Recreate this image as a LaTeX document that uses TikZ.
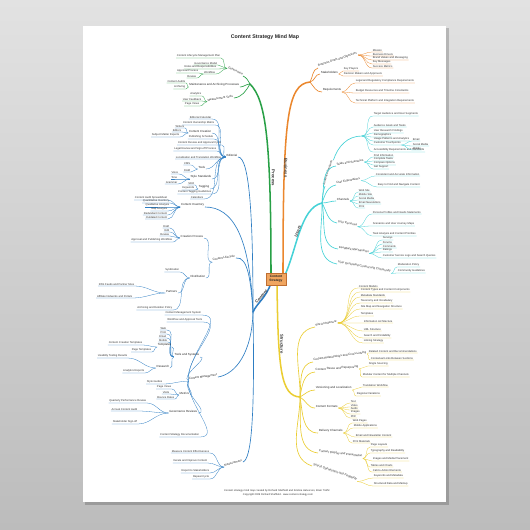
\documentclass[tikz,border=0pt]{standalone}
\usepackage{fontspec}
\setmainfont{Liberation Sans}
\definecolor{gC}{RGB}{40,160,70}
\definecolor{oC}{RGB}{235,135,45}
\definecolor{cC}{RGB}{70,210,215}
\definecolor{yC}{RGB}{235,205,50}
\definecolor{bC}{RGB}{45,125,195}
\definecolor{bgT}{RGB}{226,226,226}
\definecolor{bgB}{RGB}{188,188,188}
\definecolor{boxF}{RGB}{240,165,95}
\definecolor{boxD}{RGB}{190,110,50}
\newcommand\leavesR[3]{\foreach \nm/\xx/\yy/\tx in {#3}{\node[lf,anchor=south west] (\nm) at (\xx,\yy) {\tx};\draw[#1,lfw] (#2) to[out=0,in=180] (\nm.south west) -- (\nm.south east);}}
\newcommand\leavesL[3]{\foreach \nm/\xx/\yy/\tx in {#3}{\node[lf,anchor=south east] (\nm) at (\xx,\yy) {\tx};\draw[#1,lfw] (#2) to[out=180,in=0] (\nm.south east) -- (\nm.south west);}}
\begin{document}
\begin{tikzpicture}[x=0.3mm,y=-0.3mm,
  lf/.style={font=\fontsize{2.3}{2.6}\selectfont, inner xsep=0.5pt, inner ysep=0.35pt, text=black!80},
  sb/.style={font=\fontsize{2.5}{2.8}\selectfont, inner xsep=0.5pt, inner ysep=0.35pt, text=black!85},
  tl/.style={font=\fontsize{3.6}{4}\selectfont\bfseries, inner sep=0.5pt, text=black!80},
  lfw/.style={line width=0.25pt},
  sbw/.style={line width=0.55pt},
  trunk/.style={line width=1.3pt, line cap=round},
  cnode/.style={draw=boxD, fill=boxF, line width=0.4pt, align=center, font=\fontsize{2.8}{3.2}\selectfont\bfseries, text=black!85, minimum width=6mm, minimum height=3.6mm, inner sep=0.5pt},
  foot/.style={font=\fontsize{2.2}{2.5}\selectfont, inner sep=0.3pt, text=black!80}]
\useasboundingbox (0,0) rectangle (530,530);
\shade[top color=bgT,bottom color=bgB] (0,0) rectangle (530,530);
\fill[black,opacity=0.18] (85,28) rectangle (449,505);
\fill[white] (83,26) rectangle (446,502);
\node[font=\fontsize{4.5}{5}\selectfont\bfseries, text=black!85] (title) at (265,37) {Content Strategy Mind Map};
% hubs
\coordinate (gh) at (250,84);
\coordinate (oh) at (310,82);
\coordinate (ch) at (322,203);
\coordinate (yh) at (300,397);
\coordinate (b0) at (253,312);
\coordinate (gs) at (271,276);
\coordinate (os) at (283,276);
\coordinate (cs0) at (284,277);
\coordinate (ys) at (277,282);
\coordinate (bs) at (271,283);
% trunks
\draw[gC,trunk] (gs) .. controls (271,140) and (266,100) .. (gh);
\draw[oC,trunk] (os) .. controls (283,120) and (287,84) .. (oh);
\draw[cC,trunk] (cs0) .. controls (297,250) and (300,208) .. (ch);
\draw[yC,trunk] (ys) .. controls (278,370) and (281,396) .. (yh);
\draw[bC,trunk] (bs) .. controls (266,298) and (257,303) .. (b0);
\node[cnode] (cs) at (276,279) {Content\\Strategy};
% trunk labels
\node[tl,rotate=-90,anchor=south] (gl) at (271,178) {Process};
\node[tl,rotate=-90,anchor=south] (ol) at (283.5,168) {Business};
\node[tl,rotate=-90,anchor=south] (yl) at (279.5,344) {Structure};
\node[tl,rotate=47,anchor=south] (bl) at (263,298) {Content};
\node[tl,rotate=70,anchor=south] (cl) at (300,232) {Users};
% ---------- GREEN ----------
\node[sb,anchor=south east,rotate=-25] (g1) at (243,76) {Governance};
\draw[gC,sbw] (gh) to[out=120,in=-25] (g1.south east);
\leavesL{gC}{g1.south west}{g1a/221/58/Content Lifecycle Management Plan, g1b/218/65/Governance Model, g1c/217/69/Roles and Responsibilities, g1d/216/74/Workflow}
\leavesL{gC}{g1d.south west}{g1e/199/73/Approval Process, g1f/197/78/Review}
\node[sb,anchor=south east] (g2) at (240,87) {Maintenance and Archiving Processes};
\draw[gC,sbw] (gh) to[out=180,in=0] (g2.south east);
\leavesL{gC}{g2.south west}{g2a/186/83/Content Audits, g2b/186/89/Archiving}
\node[sb,anchor=south east,rotate=8] (g3) at (234,98) {Measurement Tools};
\draw[gC,sbw] (gh) to[out=240,in=8] (g3.south east);
\leavesL{gC}{g3.south west}{g3a/202/96/Analytics, g3b/202/101/User Feedback, g3c/200/106/Page Views}
% ---------- ORANGE ----------
\node[sb,anchor=south west,rotate=18] (o1) at (318,68) {Business Goals and Objectives};
\draw[oC,sbw] (oh) to[out=60,in=198] (o1.south west);
\leavesR{oC}{o1.south east}{o1a/372/52/Mission, o1b/372/56/Business Drivers, o1c/372/60/Brand Values and Messaging, o1d/372/64/Key Messages, o1e/372/68/Success Metrics}
\node[sb,anchor=south west] (o2) at (320,74) {Stakeholders};
\draw[oC,sbw] (oh) to[out=10,in=180] (o2.south west);
\leavesR{oC}{o2.south east}{o2a/343/71/Key Players, o2b/343/76/Decision Makers and Approvers}
\node[sb,anchor=south west] (o3) at (322,92) {Requirements};
\draw[oC,sbw] (oh) to[out=-50,in=180] (o3.south west);
\leavesR{oC}{o3.south east}{o3a/355/83/Legal and Regulatory Compliance Requirements, o3b/355/93/Budget Resources and Timeline Constraints, o3c/355/103/Technical Platform and Integration Requirements}
% ---------- CYAN ----------
\node[sb,anchor=south west,rotate=72] (c1) at (325,186) {Audience Research};
\draw[cC,sbw] (ch) to[out=88,in=252] (c1.south west);
\coordinate (c1h) at (362,136);
\draw[cC,sbw] (c1.south east) to[out=72,in=180] (c1h);
\leavesR{cC}{c1h}{c1a/373/116/Target Audience and User Segments, c1b/373/127/Audience Goals and Tasks, c1c/373/133/User Research Findings, c1d/373/137/Demographics, c1e/373/141/Usage Patterns and Analytics, c1f/373/145/Customer Touchpoints, c1g/373/152/Accessibility Requirements and Standards}
\leavesR{cC}{c1f.south east}{c1f1/412/141/Email, c1f2/412/146/Social Media, c1f3/412/150/Mobile}
\node[sb,anchor=south west,rotate=8] (c2) at (336,166) {Tasks and Scenarios};
\draw[cC,sbw] (ch) to[out=80,in=188] (c2.south west);
\leavesR{cC}{c2.south east}{c2a/373/157/Find Information, c2b/373/161/Complete Tasks, c2c/373/165/Compare Options, c2d/373/169/Get Support}
\node[sb,anchor=south west,rotate=10] (c3) at (336,185) {User Expectations};
\draw[cC,sbw] (ch) to[out=70,in=190] (c3.south west);
\leavesR{cC}{c3.south east}{c3a/375/176/Consistent and Accurate Information, c3b/377/187/Easy to Find and Navigate Content}
\node[sb,anchor=south west] (c4) at (336,201) {Channels};
\draw[cC,sbw] (ch) to[out=0,in=180] (c4.south west);
\leavesR{cC}{c4.south east}{c4a/358/192/Web Site, c4b/358/196/Mobile Site, c4c/358/200/Social Media, c4d/358/204/Email Newsletters, c4e/358/208/Print}
\node[sb,anchor=south west,rotate=-10] (c5) at (337,223) {User Personas};
\draw[cC,sbw] (ch) to[out=-60,in=170] (c5.south west);
\leavesR{cC}{c5.south east}{c5a/372/214/Persona Profiles and Needs Statements, c5b/372/226/Scenarios and User Journey Maps, c5c/372/236/Task Analysis and Content Priorities}
\node[sb,anchor=south west,rotate=-8] (c6) at (338,249) {Feedback Mechanisms};
\draw[cC,sbw] (ch) to[out=-78,in=172] (c6.south west);
\leavesR{cC}{c6.south east}{c6a/382/240/Surveys, c6b/382/244/Forums, c6c/382/248/Comments, c6d/382/252/Ratings, c6e/382/258/Customer Service Logs and Search Queries}
\node[sb,anchor=south west,rotate=-10] (c7) at (337,264) {User Generated Content and Community};
\draw[cC,sbw] (ch) to[out=-88,in=170] (c7.south west);
\leavesR{cC}{c7.south east}{c7a/397/267/Moderation Policy, c7b/397/273/Community Guidelines}
% ---------- YELLOW ----------
\node[sb,anchor=south west,rotate=10] (y1) at (315,327) {Site Architecture};
\draw[yC,sbw] (yh) to[out=88,in=190] (y1.south west);
\leavesR{yC}{y1.south east}{y1a/358/288/Content Models, y1b/360/292/Content Types and Content Components, y1c/360/297/Metadata Standards, y1d/360/303/Taxonomy and Vocabulary, y1e/360/309/Site Map and Navigation Structure, y1f/360/316/Templates, y1g/363/323/Information Architecture, y1h/363/331/URL Structure, y1i/363/338/Search and Findability, y1j/363/343/Linking Strategy}
\node[sb,anchor=south west,rotate=8] (y2) at (313,362) {Content Relationships and Cross-Linking};
\draw[yC,sbw] (yh) to[out=85,in=188] (y2.south west);
\leavesR{yC}{y2.south east}{y2a/368/353/Related Content and Recommendations, y2b/370/360/Contextual Links Between Sections}
\node[sb,anchor=south west,rotate=4] (y3) at (315,372) {Content Reuse and Repurposing};
\draw[yC,sbw] (yh) to[out=80,in=184] (y3.south west);
\leavesR{yC}{y3.south east}{y3a/368/366/Single Sourcing, y3b/362/377/Modular Content for Multiple Channels}
\node[sb,anchor=south west] (y4) at (315,390) {Versioning and Localization};
\draw[yC,sbw] (yh) to[out=30,in=180] (y4.south west);
\leavesR{yC}{y4.south east}{y4a/362/387/Translation Workflow, y4b/356/396/Regional Variations}
\node[sb,anchor=south west] (y5) at (315,408) {Content Formats};
\draw[yC,sbw] (yh) to[out=-30,in=180] (y5.south west);
\leavesR{yC}{y5.south east}{y5a/350/403/Text, y5b/350/407/Video, y5c/350/410/Audio, y5d/350/414/Images, y5e/350/418/PDF}
\node[sb,anchor=south west] (y6) at (318,433) {Delivery Channels};
\draw[yC,sbw] (yh) to[out=-80,in=180] (y6.south west);
\leavesR{yC}{y6.south east}{y6a/352/423/Web Pages, y6b/353/428/Mobile Applications, y6c/355/437/Email and Newsletter Content, y6d/352/443/Print Materials}
\node[sb,anchor=south west,rotate=-7] (y7) at (318,453) {Content Display and Presentation};
\draw[yC,sbw] (yh) to[out=-86,in=173] (y7.south west);
\leavesR{yC}{y7.south east}{y7a/370/447/Page Layouts, y7b/370/453/Typography and Readability, y7c/372/461/Images and Media Placement, y7d/370/467/Tables and Charts, y7e/372/472/Call-to-Action Elements}
\node[sb,anchor=south west,rotate=-19] (y8) at (312,466) {Search Optimization and Findability};
\draw[yC,sbw] (yh) to[out=-90,in=161] (y8.south west);
\leavesR{yC}{y8.south east}{y8a/373/478/Keywords and Metadata, y8b/373/486/Structured Data and Markup}
% ---------- BLUE ----------
\node[sb,anchor=south east] (ba) at (238,157) {Editorial};
\draw[bC,sbw] (b0) .. controls +(0,-90) and +(12,0) .. (ba.south east);
\leavesL{bC}{ba.south west}{ba1/212/119/Editorial Calendar, ba2/215/125/Content Ownership Matrix, ba4/214/139/Publishing Schedule, ba5/222/145/Content Review and Approval Cycle, ba6/217/151/Legal Review and Sign-off Process, ba7/222/159/Localization and Translation Workflow, ba13/212/194/Content Tagging Guidelines, ba12/204/199/Calendars}
\node[sb,anchor=south east] (ba3) at (212,133) {Content Creation};
\draw[bC,lfw] (ba.south west) to[out=180,in=0] (ba3.south east);
\leavesL{bC}{ba3.south west}{ba3a/185/128/Writers, ba3b/182/132/Editors, ba3c/180/137/Subject Matter Experts}
\node[sb,anchor=south east] (ba9) at (206,169) {Tools};
\draw[bC,lfw] (ba.south west) to[out=180,in=0] (ba9.south east);
\leavesL{bC}{ba9.south west}{ba9a/191/165/CMS, ba9b/191/172/DAM}
\node[sb,anchor=south east] (ba10) at (212,179) {Style Standards};
\draw[bC,lfw] (ba.south west) to[out=180,in=0] (ba10.south east);
\leavesL{bC}{ba10.south west}{ba10a/179/174/Voice, ba10b/178/179/Tone, ba10c/178/184/Grammar}
\node[sb,anchor=south east] (ba11) at (210,189) {Tagging};
\draw[bC,lfw] (ba.south west) to[out=180,in=0] (ba11.south east);
\leavesL{bC}{ba11.south west}{ba11a/195/185/SEO, ba11b/195/190/Keywords}
\node[sb,anchor=south east] (bb) at (205,207) {Content Inventory};
\draw[bC,sbw] (b0) .. controls +(-3,-75) and +(28,0) .. (bb.south east);
\leavesL{bC}{bb.south west}{bb1/168/200/Content Audit Spreadsheet, bb2/170/203/Quantitative Inventory, bb3/170/207/Qualitative Analysis, bb4/168/211/Gap Analysis, bb5/168/215/Redundant Content, bb6/168/219/Outdated Content}
\node[sb,anchor=south east,rotate=10] (bc) at (236,258) {Content Lifecycle};
\draw[bC,sbw] (b0) .. controls +(-2,-30) and +(12,-2) .. (bc.south east);
\node[sb,anchor=south east] (bc1) at (204,238) {Creation Process};
\draw[bC,lfw] (bc.south west) to[out=180,in=0] (bc1.south east);
\leavesL{bC}{bc1.south west}{bc1a/170/228/Draft, bc1b/170/232/Edit, bc1c/170/236/Review, bc1d/173/242/Approval and Publishing Workflow}
\node[sb,anchor=south east] (bc2) at (206,278) {Distribution};
\draw[bC,lfw] (bc.south west) to[out=180,in=0] (bc2.south east);
\leavesL{bC}{bc2.south west}{bc2a/180/272/Syndication, bc2e/173/310/Archiving and Deletion Policy}
\node[sb,anchor=south east] (bc2b) at (178,293) {Partners};
\draw[bC,lfw] (bc2.south west) to[out=180,in=0] (bc2b.south east);
\leavesL{bC}{bc2b.south west}{bc2b1/135/286/RSS Feeds and Partner Sites, bc2b2/133/298/Affiliate Networks and Portals}
\node[sb,anchor=south east,rotate=8] (bd) at (218,377) {Content Management};
\draw[bC,sbw] (b0) .. controls +(-1,40) and +(18,-3) .. (bd.south east);
\node[lf,anchor=south east] (bd1) at (202,315) {Content Management System};
\draw[bC,lfw] (bd.south west) to[out=95,in=0] (bd1.south east) -- (bd1.south west);
\node[lf,anchor=south east] (bd2) at (203,322) {Workflow and Approval Tools};
\draw[bC,lfw] (bd.south west) to[out=100,in=0] (bd2.south east) -- (bd2.south west);
\node[lf,anchor=south east] (bd7) at (200,437) {Content Strategy Documentation};
\draw[bC,lfw] (bd.south west) to[out=-95,in=0] (bd7.south east) -- (bd7.south west);
\leavesL{bC}{bd.south west}{bd6/163/384/Style Guides}
\node[sb,anchor=south east] (bdA) at (200,357) {Tools and Systems};
\draw[bC,lfw] (bd.south west) to[out=150,in=0] (bdA.south east);
\leavesL{bC}{bdA.south west}{bdA1/167/330/Web, bdA2/167/334/Print, bdA3/167/338/Email, bdA4/168/342/Mobile}
\node[sb,anchor=south east] (bdB) at (172,347) {Templates};
\draw[bC,lfw] (bdA.south west) to[out=180,in=0] (bdB.south east);
\leavesL{bC}{bdB.south west}{bdB1/143/345/Content Creation Templates, bdB2/152/352/Page Templates}
\node[sb,anchor=south east] (bdC) at (170,368) {Research};
\draw[bC,lfw] (bdA.south west) to[out=180,in=0] (bdC.south east);
\leavesL{bC}{bdC.south west}{bdC1/128/358/Usability Testing Results, bdC2/145/373/Analytics Reports}
\node[sb,anchor=south east] (bdD) at (190,395) {Metrics};
\draw[bC,lfw] (bd.south west) to[out=200,in=0] (bdD.south east);
\leavesL{bC}{bdD.south west}{bdD1/172/389/Page Views, bdD2/170/394/Visits, bdD3/175/399/Bounce Rates}
\node[sb,anchor=south east] (bdE) at (198,413) {Governance Reviews};
\draw[bC,lfw] (bd.south west) to[out=240,in=0] (bdE.south east);
\leavesL{bC}{bdE.south west}{bdE1/147/403/Quarterly Performance Review, bdE2/138/411/Annual Content Audit, bdE3/138/424/Stakeholder Sign-off}
\node[sb,anchor=south east,rotate=15] (be) at (243,462) {Measurement};
\draw[bC,sbw] (b0) .. controls +(2,110) and +(8,-3) .. (be.south east);
\leavesL{bC}{be.south west}{be1/210/453/Measure Content Effectiveness, be2/208/463/Iterate and Improve Content, be3/210/473/Report to Stakeholders, be4/210/479/Repeat Cycle}
% footer
\node[foot] (f1) at (277,491) {Content strategy mind map created by Richard Sheffield and Kristina Halvorson, Brain Traffic};
\node[foot] (f2) at (278,495) {Copyright 2009 Richard Sheffield · www.content-strategy.com};
\end{tikzpicture}
\end{document}
